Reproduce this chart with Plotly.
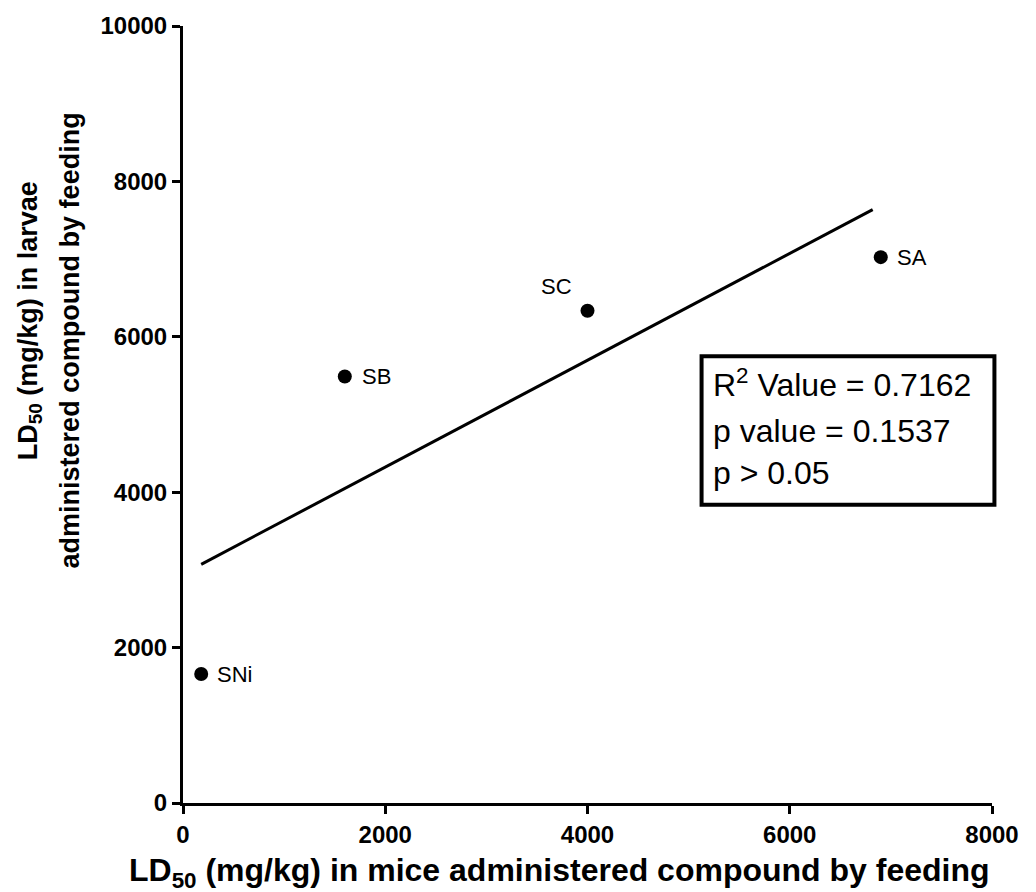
import numpy as np
import plotly.graph_objects as go

# Data
compounds = ["SNi", "SB", "SC", "SA"]
mice_ld50 = [180, 1600, 4000, 6900]
larvae_ld50 = [1660, 5490, 6335, 7025]
fit_x_range = [180, 6820]
x_ticks = [0, 2000, 4000, 6000, 8000]
y_ticks = [0, 2000, 4000, 6000, 8000, 10000]
stats_lines = ["R<sup>2</sup> Value = 0.7162", "p value = 0.1537", "p > 0.05"]

slope, intercept = np.polyfit(mice_ld50, larvae_ld50, 1)
fit_x = np.array(fit_x_range, dtype=float)
fit_y = slope * fit_x + intercept

FONT = "Liberation Sans, Arial, sans-serif"

fig = go.Figure()
fig.add_trace(go.Scatter(x=fit_x, y=fit_y, mode="lines",
                         line=dict(color="black", width=3), showlegend=False,
                         hoverinfo="skip"))
fig.add_trace(go.Scatter(x=mice_ld50, y=larvae_ld50, mode="markers",
                         marker=dict(color="black", size=14), showlegend=False,
                         cliponaxis=False))

# point labels
label_offsets = {"SNi": (14, 0, "left"), "SB": (15, 0, "left"),
                 "SC": (-31, 24, "center"), "SA": (14, 0, "left")}
for name, x, y in zip(compounds, mice_ld50, larvae_ld50):
    dx, dy, anchor = label_offsets[name]
    fig.add_annotation(x=x, y=y, xref="x", yref="y", text=name, showarrow=False,
                       xanchor=anchor, yanchor="middle", xshift=dx, yshift=dy,
                       font=dict(family=FONT, size=22, color="black"))

# stats box
fig.add_shape(type="rect", xref="paper", yref="paper", x0=0.641, x1=1.003,
              y0=0.384, y1=0.575, line=dict(color="black", width=4),
              fillcolor="white", layer="below")
for txt, yy in zip(stats_lines, [0.541, 0.479, 0.425]):
    fig.add_annotation(x=0.653, y=yy, xref="paper", yref="paper", text=txt,
                       showarrow=False, xanchor="left", yanchor="middle",
                       font=dict(family=FONT, size=32, color="black"))

# axis titles
fig.add_annotation(x=0.465, y=-0.089, xref="paper", yref="paper",
                   text="<b>LD<sub>50</sub> (mg/kg) in mice administered compound by feeding</b>",
                   showarrow=False, xanchor="center", yanchor="middle",
                   font=dict(family=FONT, size=32, color="black"))
fig.add_annotation(x=-0.189, y=0.62, xref="paper", yref="paper",
                   text="<b>LD<sub>50</sub> (mg/kg) in larvae</b>", textangle=-90,
                   showarrow=False, xanchor="center", yanchor="middle",
                   font=dict(family=FONT, size=27, color="black"))
fig.add_annotation(x=-0.140, y=0.595, xref="paper", yref="paper",
                   text="<b>administered compound by feeding</b>", textangle=-90,
                   showarrow=False, xanchor="center", yanchor="middle",
                   font=dict(family=FONT, size=27, color="black"))

axis_common = dict(showgrid=False, zeroline=False, showline=True, linecolor="black",
                   linewidth=3, ticks="outside", ticklen=8, tickwidth=3,
                   tickcolor="black",
                   tickfont=dict(family=FONT, size=24, color="black", weight="bold"))
fig.update_xaxes(range=[0, 8000], tickvals=x_ticks, ticktext=[str(v) for v in x_ticks],
                 **axis_common)
fig.update_yaxes(range=[0, 10000], tickvals=y_ticks, ticktext=[str(v) for v in y_ticks],
                 **axis_common)

fig.update_layout(width=1036, height=892, plot_bgcolor="white", paper_bgcolor="white",
                  margin=dict(l=183, r=44, t=21, b=89), showlegend=False)

fig.write_html("out.html")
